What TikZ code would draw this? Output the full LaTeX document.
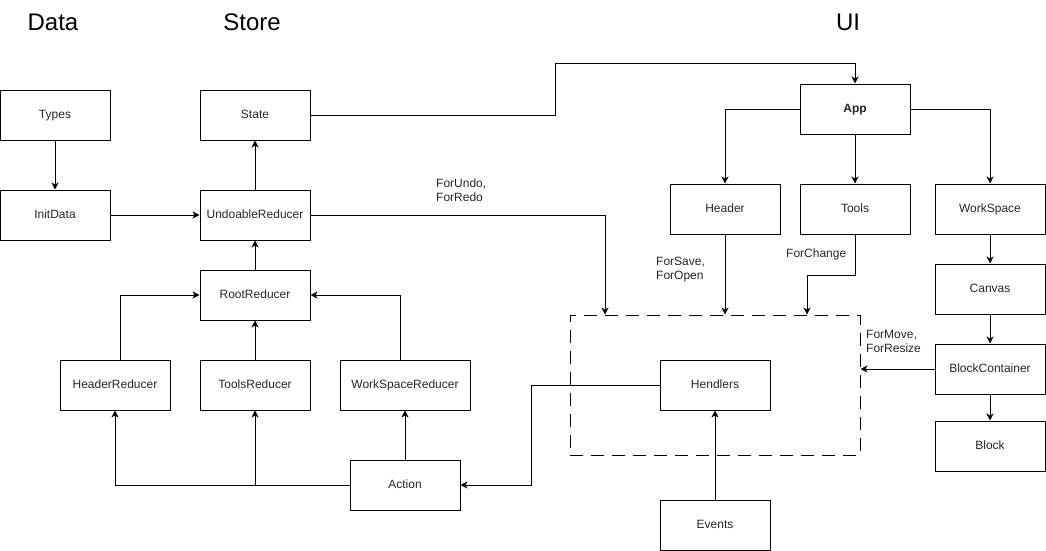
\documentclass[tikz,border=0pt]{standalone}
\usepackage{fontspec}
\setmainfont{Liberation Sans}
\usetikzlibrary{arrows.meta}
\begin{document}
\begin{tikzpicture}[x=1pt,y=-1pt,
  box/.style={draw, line width=1pt, minimum width=110pt, minimum height=50pt, inner sep=0pt, text height=8.6pt, text depth=2.6pt, font=\fontsize{12}{14}\selectfont, text=black!85},
  wide/.style={minimum width=130pt},
  title/.style={font=\fontsize{24}{28}\selectfont, inner sep=0pt},
  lbl/.style={font=\fontsize{12}{14}\selectfont, inner sep=0pt, align=left, anchor=west, text=black!85},
  ln/.style={line width=1pt},
  arr/.style={line width=1pt, -{Stealth[length=7pt,width=7pt,inset=2pt]}},
  dashbox/.style={draw, line width=1pt, dash pattern=on 13pt off 8pt, minimum width=290pt, minimum height=140pt, inner sep=0pt}
]
\useasboundingbox (0,0) rectangle (1046,551);
% titles
\node[title] (tData) at (53,22) {Data};
\node[title] (tStore) at (252,22) {Store};
\node[title] (tUI) at (848,22) {UI};
% dashed group
\node[dashbox] (hb) at (715,385) {};
% boxes
\node[box] (Ty) at (55,115) {Types};
\node[box] (ID) at (55,215) {InitData};
\node[box] (S) at (255,115) {State};
\node[box] (U) at (255,215) {UndoableReducer};
\node[box] (R) at (255,295) {RootReducer};
\node[box] (HR) at (115,385) {HeaderReducer};
\node[box] (TR) at (255,385) {ToolsReducer};
\node[box,wide] (WR) at (405,385) {WorkSpaceReducer};
\node[box] (Ac) at (405,485) {Action};
\node[box] (H) at (715,385) {Hendlers};
\node[box] (Ev) at (715,525) {Events};
\node[box,font=\fontsize{12}{14}\selectfont\bfseries] (App) at (855,109) {App};
\node[box] (Hd) at (725,209) {Header};
\node[box] (To) at (855,209) {Tools};
\node[box] (WS) at (990,209) {WorkSpace};
\node[box] (Cv) at (990,289) {Canvas};
\node[box] (BC) at (990,369) {BlockContainer};
\node[box] (Bl) at (990,446) {Block};
% labels
\node[lbl] (lUndo) at (436,190) {ForUndo,\\ForRedo};
\node[lbl] (lSave) at (656,270) {ForSave,\\ForOpen};
\node[lbl] (lChange) at (786,254) {ForChange};
\node[lbl] (lMove) at (866,341) {ForMove,\\ForResize};
% helper coordinates
\coordinate (sBend) at (555,64);
\coordinate (hBend) at (531,385);
\coordinate (tBend) at (807,275);
% connectors
\draw[arr] (Ty) -- (ID);
\draw[arr] (ID) -- (U);
\draw[arr] (U) -- (S);
\draw[arr] (R) -- (U);
\draw[arr] (TR) -- (R);
\draw[arr] ([xshift=5pt]HR.north) |- (R.west);
\draw[arr] ([xshift=-5pt]WR.north) |- (R.east);
\draw[arr] (Ac.west) -| (HR.south);
\draw[arr] (Ac.west -| TR.south) -- (TR.south);
\draw[arr] (Ac) -- (WR);
\draw[arr] (H.west) -- (hBend) |- (Ac.east);
\draw[arr] (Ev) -- (H);
\draw[arr] (S.east) -| (sBend) -| (App.north);
\draw[arr] (U.east) -| ([xshift=-110pt]hb.north);
\draw[arr] (App.west) -| (Hd.north);
\draw[arr] (App) -- (To);
\draw[arr] (App.east) -| (WS.north);
\draw[arr] (Hd.south) -- (Hd.south |- hb.north);
\draw[arr] (To.south) |- (tBend) -- (tBend |- hb.north);
\draw[arr] (WS) -- (Cv);
\draw[arr] (Cv) -- (BC);
\draw[arr] (BC) -- (Bl);
\draw[arr] (BC.west) -- (BC.west -| hb.east);
\end{tikzpicture}
\end{document}
